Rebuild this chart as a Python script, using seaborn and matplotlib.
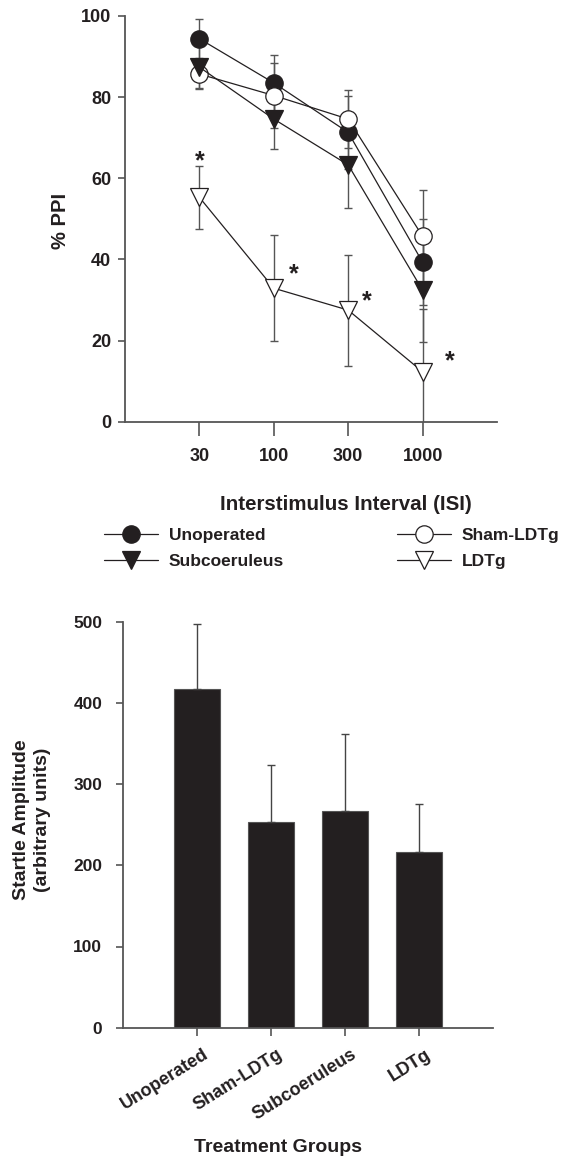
import numpy as np
import pandas as pd
import matplotlib
matplotlib.use("Agg")
import matplotlib.pyplot as plt
import matplotlib.transforms as mtrans
import seaborn as sns

# ---------------- data ----------------
isi_labels = ["30", "100", "300", "1000"]
groups = ["Unoperated", "Sham-LDTg", "Subcoeruleus", "LDTg"]

ppi_unoperated = [94.4, 83.5, 71.3, 39.3]
sem_unoperated = [4.8, 7.0, 9.0, 10.6]
ppi_sham = [85.7, 80.4, 74.6, 45.7]
sem_sham = [3.5, 8.0, 7.2, 11.5]
ppi_subcoeruleus = [87.4, 74.6, 63.3, 32.4]
sem_subcoeruleus = [5.4, 7.4, 10.6, 12.7]
ppi_ldtg = [55.3, 32.9, 27.5, 12.3]
sem_ldtg = [7.8, 13.0, 13.7, 15.6]

star_x = [0.0, 1.27, 2.25, 3.36]
star_y = [65.8, 38.1, 31.3, 16.6]

startle_mean = [416.7, 252.9, 267.2, 216.7]
startle_sem = [80.5, 71.0, 94.8, 59.2]

# ---------------- style ----------------
sns.set_theme(style="white")
plt.rcParams["font.family"] = ["Liberation Sans", "DejaVu Sans"]
plt.rcParams["font.weight"] = "bold"
TXT = "#231f20"
plt.rcParams["text.color"] = TXT
plt.rcParams["xtick.color"] = "#555555"
plt.rcParams["ytick.color"] = "#555555"
plt.rcParams["xtick.labelcolor"] = TXT
plt.rcParams["ytick.labelcolor"] = TXT

W, H = 572, 1158
fig = plt.figure(figsize=(W / 100, H / 100), dpi=100)
ax1 = fig.add_axes([125 / W, 1 - 421.7 / H, (497 - 125) / W, (421.7 - 16) / H])
ax2 = fig.add_axes([123 / W, 1 - 1027.7 / H, (493 - 123) / W, (1027.7 - 621.7) / H])

# ---------------- top: PPI ----------------
pos = np.arange(len(isi_labels))
series = [
    ("Unoperated", ppi_unoperated, sem_unoperated, "o", TXT),
    ("Sham-LDTg", ppi_sham, sem_sham, "o", "white"),
    ("Subcoeruleus", ppi_subcoeruleus, sem_subcoeruleus, "v", TXT),
    ("LDTg", ppi_ldtg, sem_ldtg, "v", "white"),
]
for i, (name, vals, sem, mk, fc) in enumerate(series):
    ax1.errorbar(pos, vals, yerr=sem, fmt="none", ecolor="#555555",
                 elinewidth=1.0, capsize=3, capthick=1.0, zorder=2 + i * 0.1)
    sns.lineplot(x=pos, y=vals, ax=ax1, color=TXT, lw=0.9, marker=mk,
                 markersize=13 if mk == "v" else 12.5,
                 markerfacecolor=fc, markeredgecolor=TXT, markeredgewidth=0.9,
                 label=name, zorder=3 + i * 0.1)
lh, ll = ax1.get_legend_handles_labels()
hd = dict(zip(ll, lh))
if ax1.get_legend() is not None:
    ax1.get_legend().remove()

for sx, sy in zip(star_x, star_y):
    ax1.annotate("*", xy=(sx, sy), xytext=(0, -10), textcoords="offset points",
                 ha="center", va="baseline", fontsize=18, fontweight="bold", color=TXT)

ax1.set_xlim(-1, 4)
ax1.set_ylim(0, 100)
ax1.set_xticks(pos)
ax1.set_xticklabels(isi_labels)
ax1.set_yticks([0, 20, 40, 60, 80, 100])
ax1.tick_params(axis="x", length=10, width=1.2, pad=9, labelsize=13, direction="out", bottom=True)
ax1.tick_params(axis="y", length=5, width=1.2, pad=5, labelsize=13, direction="out", left=True)
ax1.set_xlabel("")
ax1.set_ylabel("")
for s in ["top", "right"]:
    ax1.spines[s].set_visible(False)
for s in ["left", "bottom"]:
    ax1.spines[s].set_color("#555555")
    ax1.spines[s].set_linewidth(1.3)

fig.text(60 / W, 1 - 221 / H, "% PPI", rotation=90, ha="center", va="center",
         fontsize=14.5, fontweight="bold")
fig.text(346 / W, 1 - 510 / H, "Interstimulus Interval (ISI)", ha="center", va="baseline",
         fontsize=14.8, fontweight="bold")

order = ["Unoperated", "Subcoeruleus", "Sham-LDTg", "LDTg"]
fig.legend([hd[k] for k in order], order, ncol=2, loc="upper left",
           bbox_to_anchor=(104 / W, 1 - 528 / H), frameon=False,
           fontsize=12.5, handlelength=3.1, handletextpad=0.63,
           columnspacing=6.5, labelspacing=0.62, borderpad=0, borderaxespad=0)

# ---------------- bottom: startle ----------------
df = pd.DataFrame({"group": groups, "amp": startle_mean})
sns.barplot(data=df, x="group", y="amp", ax=ax2, color=TXT, saturation=1,
            width=0.61, edgecolor="#555555", linewidth=0.8, errorbar=None)
ax2.errorbar(np.arange(len(groups)), startle_mean,
             yerr=[np.zeros(len(groups)), startle_sem], fmt="none",
             ecolor="#444444", elinewidth=1.0, capsize=3, capthick=1.0, zorder=3)
ax2.set_xlim(-1, 4)
ax2.set_ylim(0, 500)
ax2.set_yticks([0, 100, 200, 300, 400, 500])
ax2.set_xlabel("")
ax2.set_ylabel("")
ax2.tick_params(axis="x", length=6, width=1.2, pad=7, labelsize=13, direction="out", bottom=True)
ax2.tick_params(axis="y", length=5, width=1.2, pad=10, labelsize=12.5, direction="out", left=True)
ax2.set_xticks(np.arange(len(groups)))
ax2.set_xticklabels(groups, rotation=32, ha="right", rotation_mode="anchor")
off = mtrans.ScaledTranslation(6 / 100, 0, fig.dpi_scale_trans)
for lab in ax2.get_xticklabels():
    lab.set_transform(lab.get_transform() + off)
for s in ["top", "right"]:
    ax2.spines[s].set_visible(False)
for s in ["left", "bottom"]:
    ax2.spines[s].set_color("#555555")
    ax2.spines[s].set_linewidth(1.3)

fig.text(32 / W, 1 - 820 / H, "Startle Amplitude\n(arbitrary units)", rotation=90,
         ha="center", va="center", multialignment="center", fontsize=14,
         fontweight="bold", linespacing=1.25)
fig.text(277.5 / W, 1 - 1152 / H, "Treatment Groups", ha="center", va="baseline",
         fontsize=14, fontweight="bold")

fig.savefig("out.png", dpi=100)
